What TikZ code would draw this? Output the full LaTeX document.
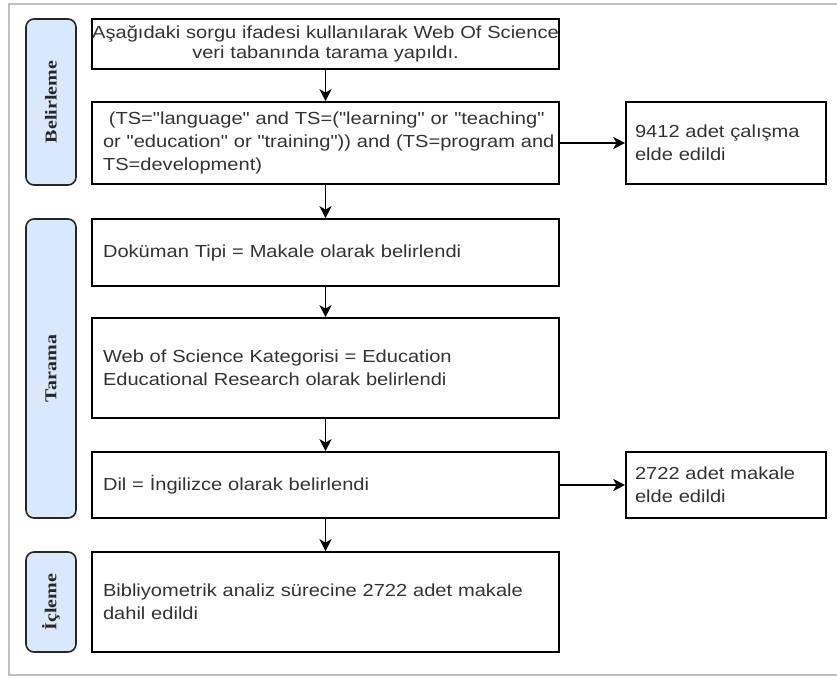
\documentclass[tikz,border=0pt]{standalone}
\usepackage{fontspec}
\setmainfont{Liberation Sans}[FakeStretch=1.15,Ligatures=TeXOff]
\newfontfamily\sidefont{Liberation Serif}[FakeStretch=1.2]
\usetikzlibrary{arrows.meta}
\definecolor{txt}{HTML}{333333}
\definecolor{sidefill}{HTML}{DAE8FC}
\definecolor{framegray}{HTML}{BFBFBF}
\begin{document}
\begin{tikzpicture}[x=0.75pt,y=-0.75pt,
  box/.style={draw=black,line width=1.2pt,rectangle,inner ysep=0pt,font=\fontsize{13.1}{17}\selectfont,text=txt},
  cbox/.style={box,align=center,inner xsep=0pt,text width=350.25pt,font=\fontsize{13.1}{15}\selectfont},
  lbox/.style={box,align=left,inner xsep=8.25pt,text width=333.75pt},
  rbox/.style={box,align=left,inner xsep=6.75pt,text width=136.5pt},
  side/.style={draw=black!85,line width=1.2pt,fill=sidefill,rounded corners=6pt,rotate=90,minimum height=37.5pt,inner sep=0pt,font=\sidefont\bfseries\fontsize{12.5}{14}\selectfont,text=black!85},
  conn/.style={line width=1.2pt,-{Stealth[length=9pt,width=9pt,inset=2.5pt]}}
]
\useasboundingbox (0,0) rectangle (837,677);
\draw[framegray,line width=1.5pt] (837,4) -- (9,4) -- (9,675) -- (837,675);

% side labels
\node[side,minimum width=124.5pt] (s1) at (51,102) {Belirleme};
\node[side,minimum width=224.25pt] (s2) at (51,368.5) {Tarama};
\node[side,minimum width=75pt] (s3) at (51,602) {İçleme};

% main boxes
\node[cbox,minimum height=37.5pt] (b1) at (325.5,44) {\mbox{Aşağıdaki sorgu ifadesi kullanılarak Web Of Science}\\veri tabanında tarama yapıldı.};
\node[lbox,minimum height=61.5pt] (b2) at (325.5,143) {\mbox{\ (TS="language" and TS=("learning" or "teaching"}\\\mbox{or "education" or "training")) and (TS=program and}\\TS=development)};
\node[lbox,minimum height=50.25pt] (b3) at (325.5,252.5) {Doküman Tipi = Makale olarak belirlendi};
\node[lbox,minimum height=75pt] (b4) at (325.5,368) {Web of Science Kategorisi = Education\\Educational Research olarak belirlendi};
\node[lbox,minimum height=49.5pt] (b5) at (325.5,485) {Dil = İngilizce olarak belirlendi};
\node[lbox,minimum height=75pt] (b6) at (325.5,602) {Bibliyometrik analiz sürecine 2722 adet makale\\dahil edildi};

% right boxes
\node[rbox,minimum height=61.5pt] (r1) at (726,143) {9412 adet çalışma\\elde edildi};
\node[rbox,minimum height=49.5pt] (r2) at (726,485) {2722 adet makale\\elde edildi};

% connectors
\draw[conn] (b1) -- (b2);
\draw[conn] (b2) -- (b3);
\draw[conn] (b3) -- (b4);
\draw[conn] (b4) -- (b5);
\draw[conn] (b5) -- (b6);
\draw[conn] (b2) -- (r1);
\draw[conn] (b5) -- (r2);
\end{tikzpicture}
\end{document}
